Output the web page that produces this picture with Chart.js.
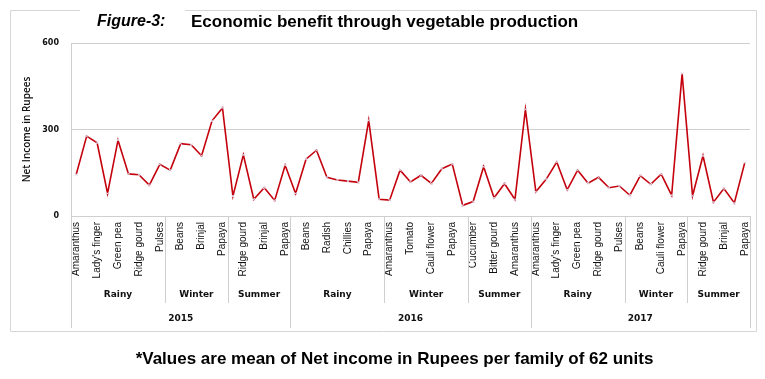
<!DOCTYPE html>
<html>
<head>
<meta charset="utf-8">
<script src="https://cdn.jsdelivr.net/npm/chart.js@4.4.0/dist/chart.umd.min.js"></script>
<style>
  body { margin: 0; background: #fff; }
  #wrap { position: relative; width: 765px; height: 379px; }
  #chart { position: absolute; left: 0; top: 0; }
  .fig { position: absolute; left: 97px; top: 12px; font: italic bold 16px 'Liberation Sans', Arial, sans-serif; color: #000; }
  .head { position: absolute; left: 191px; top: 12px; font: bold 17px 'Liberation Sans', Arial, sans-serif; color: #000; white-space: nowrap; }
  .note { position: absolute; left: 0; width: 789px; top: 349px; text-align: center; font: bold 17px 'Liberation Sans', Arial, sans-serif; color: #000; white-space: nowrap; }
</style>
</head>
<body>
<div id="wrap">
  <canvas id="chart" width="765" height="379"></canvas>
  <div class="fig">Figure-3:</div>
  <div class="head">Economic benefit through vegetable production</div>
  <div class="note">*Values are mean of Net income in Rupees per family of 62 units</div>
</div>
<script>
// crops in order, only every second name is printed on the axis (as in the original)
const crops = [
  // 2015
  'Amaranthus', 'Bottle gourd', "Lady's finger", 'Cucumber', 'Green pea', 'Pumpkin', 'Ridge gourd', 'Bitter gourd', 'Pulses',
  'Cabbage', 'Beans', 'Tomato', 'Brinjal', 'Radish', 'Papaya',
  'Amaranthus', 'Ridge gourd', 'Cucumber', 'Brinjal', "Lady's finger", 'Papaya',
  // 2016
  'Amaranthus', 'Beans', "Lady's finger", 'Radish', 'Brinjal', 'Chillies', 'Ridge gourd', 'Papaya', 'Pulses',
  'Amaranthus', 'Beans', 'Tomato', 'Brinjal', 'Cauli flower', 'Cabbage', 'Papaya', 'Radish',
  'Cucumber', 'Ridge gourd', 'Bitter gourd', 'Brinjal', 'Amaranthus', 'Papaya',
  // 2017
  'Amaranthus', 'Beans', "Lady's finger", 'Cucumber', 'Green pea', 'Brinjal', 'Ridge gourd', 'Bitter gourd', 'Pulses',
  'Amaranthus', 'Beans', 'Tomato', 'Cauli flower', 'Radish', 'Papaya',
  'Amaranthus', 'Ridge gourd', 'Cucumber', 'Brinjal', "Lady's finger", 'Papaya'
];

const netIncome = [
  144, 277, 254, 78, 263, 146, 143, 107, 179,
  159, 251, 247, 209, 330, 375,
  69, 212, 58, 98, 54, 176,
  78, 197, 228, 134, 125, 121, 117, 332, 58,
  55, 159, 118, 141, 113, 164, 180, 37,
  50, 171, 63, 112, 57, 370,
  84, 128, 187, 91, 159, 114, 134, 98, 104,
  72, 140, 110, 145, 72, 494,
  70, 209, 48, 95, 45, 185
];

const seasonNames = ['Rainy', 'Winter', 'Summer', 'Rainy', 'Winter', 'Summer', 'Rainy', 'Winter', 'Summer'];
const seasonSizes = [9, 6, 6, 9, 8, 6, 9, 6, 6];
const yearNames = ['2015', '2016', '2017'];
const yearSeasons = [3, 3, 3];
const yTicks = [0, 300, 600];

const gridGray = '#cfcfcf';

const groupAxis = {
  id: 'groupAxis',
  beforeDraw(chart) {
    const ctx = chart.ctx;
    ctx.save();
    ctx.strokeStyle = '#d6d6d6';
    ctx.lineWidth = 1;
    ctx.beginPath();
    ctx.moveTo(80, 10.5);
    ctx.lineTo(10.5, 10.5);
    ctx.lineTo(10.5, 331.5);
    ctx.lineTo(756.5, 331.5);
    ctx.lineTo(756.5, 10.5);
    ctx.lineTo(185, 10.5);
    ctx.stroke();
    ctx.restore();
  },
  afterDraw(chart) {
    const ctx = chart.ctx;
    const x = chart.scales.x;
    const area = chart.chartArea;
    const edge = (i) => {
      if (i <= 0) return area.left;
      if (i >= crops.length) return area.right;
      return (x.getPixelForValue(i - 1) + x.getPixelForValue(i)) / 2;
    };
    const vline = (px, y2) => {
      ctx.beginPath();
      ctx.moveTo(Math.round(px) + 0.5, area.bottom);
      ctx.lineTo(Math.round(px) + 0.5, y2);
      ctx.stroke();
    };
    ctx.save();
    ctx.strokeStyle = gridGray;
    ctx.lineWidth = 1;
    ctx.fillStyle = '#111';
    ctx.textAlign = 'center';
    ctx.textBaseline = 'middle';
    ctx.font = 'bold 9px "DejaVu Sans"';

    // season row
    let start = 0;
    seasonSizes.forEach((n, k) => {
      const a = edge(start), b = edge(start + n);
      vline(a, 303);
      ctx.fillText(seasonNames[k], (a + b) / 2, 295);
      start += n;
    });

    // year row
    let s = 0;
    let idx = 0;
    yearNames.forEach((yr, k) => {
      let n = 0;
      for (let j = 0; j < yearSeasons[k]; j++) n += seasonSizes[s + j];
      const a = edge(idx), b = edge(idx + n);
      vline(a, 328);
      ctx.fillText(yr, (a + b) / 2, 319);
      idx += n;
      s += yearSeasons[k];
    });
    vline(edge(crops.length), 328);
    ctx.restore();
  }
};

new Chart(document.getElementById('chart'), {
  type: 'line',
  data: {
    labels: crops,
    datasets: [{
      label: 'Net Income in Rupees',
      data: netIncome,
      borderColor: '#c4000c',
      borderWidth: 1.6,
      tension: 0,
      pointStyle: 'crossRot',
      pointRadius: 1.8,
      pointBorderColor: '#d9cfe0',
      pointBorderWidth: 1,
      pointHoverRadius: 2
    }]
  },
  options: {
    responsive: false,
    animation: false,
    events: [],
    layout: { padding: { left: 0, right: 15, top: 43, bottom: 49 } },
    plugins: { legend: { display: false }, tooltip: { enabled: false } },
    scales: {
      x: {
        type: 'category',
        offset: true,
        grid: { display: false, drawTicks: false },
        border: { display: true, color: gridGray },
        ticks: {
          autoSkip: false,
          maxRotation: 90,
          minRotation: 90,
          padding: 6,
          color: '#111',
          font: { family: '"Liberation Sans Narrow", "Liberation Sans", sans-serif', size: 10 },
          callback: (v, i) => (i % 2 === 0 ? crops[i] : '')
        },
        afterFit: (scale) => { scale.height = 114; }
      },
      y: {
        min: 0,
        max: 600,
        afterBuildTicks: (scale) => { scale.ticks = yTicks.map(v => ({ value: v })); },
        grid: { color: gridGray, drawTicks: false },
        border: { display: true, color: gridGray },
        ticks: {
          padding: 12,
          color: '#111',
          font: { family: '"DejaVu Sans"', size: 8, weight: 'bold' }
        },
        title: {
          display: true,
          text: 'Net Income in Rupees',
          color: '#111',
          padding: { top: 21, bottom: 0 },
          font: { family: '"Open Sans"', size: 10, weight: '600' }
        },
        afterFit: (scale) => { scale.width = 71; }
      }
    }
  },
  plugins: [groupAxis]
});
</script>
</body>
</html>
